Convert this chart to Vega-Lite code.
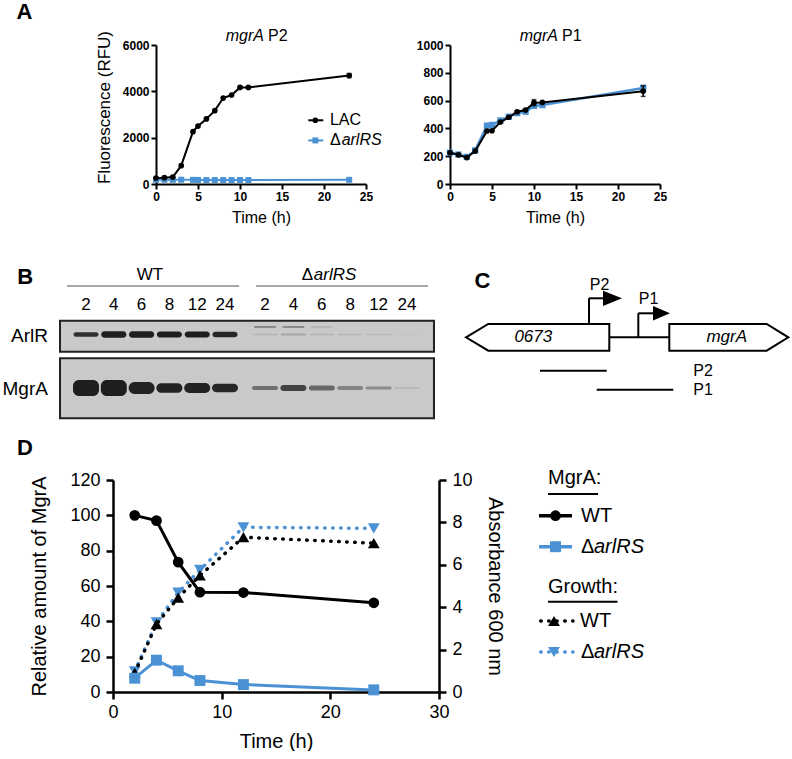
{
  "$schema": "https://vega.github.io/schema/vega-lite/v6.json",
  "background": "white",
  "padding": {"left": 0, "top": 0, "right": 0, "bottom": 0},
  "config": {
    "view": {"stroke": null},
    "font": "Liberation Sans",
    "axis": {"grid": false, "domainColor": "black", "tickColor": "black", "labelColor": "black", "titleColor": "black", "titleFontWeight": "normal", "labelFont": "Liberation Sans", "titleFont": "Liberation Sans", "labelOverlap": false}
  },
  "datasets": {
    "A_P2": [
      {"t": 0, "strain": "LAC", "value": 260, "sd": 0},
      {"t": 1, "strain": "LAC", "value": 273, "sd": 0},
      {"t": 2, "strain": "LAC", "value": 300, "sd": 0},
      {"t": 3, "strain": "LAC", "value": 790, "sd": 0},
      {"t": 4.4, "strain": "LAC", "value": 2260, "sd": 0},
      {"t": 5, "strain": "LAC", "value": 2500, "sd": 0},
      {"t": 6, "strain": "LAC", "value": 2810, "sd": 0},
      {"t": 7, "strain": "LAC", "value": 3165, "sd": 0},
      {"t": 8, "strain": "LAC", "value": 3710, "sd": 0},
      {"t": 9, "strain": "LAC", "value": 3840, "sd": 0},
      {"t": 10, "strain": "LAC", "value": 4170, "sd": 40},
      {"t": 11, "strain": "LAC", "value": 4170, "sd": 0},
      {"t": 23, "strain": "LAC", "value": 4680, "sd": 90},
      {"t": 0, "strain": "ΔarlRS", "value": 185, "sd": 0},
      {"t": 1, "strain": "ΔarlRS", "value": 185, "sd": 0},
      {"t": 2, "strain": "ΔarlRS", "value": 180, "sd": 0},
      {"t": 3, "strain": "ΔarlRS", "value": 185, "sd": 0},
      {"t": 4.4, "strain": "ΔarlRS", "value": 180, "sd": 0},
      {"t": 5, "strain": "ΔarlRS", "value": 175, "sd": 0},
      {"t": 6, "strain": "ΔarlRS", "value": 170, "sd": 0},
      {"t": 7, "strain": "ΔarlRS", "value": 170, "sd": 0},
      {"t": 8, "strain": "ΔarlRS", "value": 170, "sd": 0},
      {"t": 9, "strain": "ΔarlRS", "value": 170, "sd": 0},
      {"t": 10, "strain": "ΔarlRS", "value": 175, "sd": 0},
      {"t": 11, "strain": "ΔarlRS", "value": 170, "sd": 0},
      {"t": 23, "strain": "ΔarlRS", "value": 180, "sd": 30}
    ],
    "A_P1": [
      {"t": 0, "strain": "LAC", "value": 225, "sd": 0},
      {"t": 1, "strain": "LAC", "value": 210, "sd": 0},
      {"t": 2, "strain": "LAC", "value": 190, "sd": 0},
      {"t": 3, "strain": "LAC", "value": 237, "sd": 0},
      {"t": 4.4, "strain": "LAC", "value": 381, "sd": 0},
      {"t": 5, "strain": "LAC", "value": 383, "sd": 0},
      {"t": 6, "strain": "LAC", "value": 446, "sd": 0},
      {"t": 7, "strain": "LAC", "value": 480, "sd": 0},
      {"t": 8, "strain": "LAC", "value": 520, "sd": 0},
      {"t": 9, "strain": "LAC", "value": 532, "sd": 0},
      {"t": 10, "strain": "LAC", "value": 585, "sd": 22},
      {"t": 11, "strain": "LAC", "value": 587, "sd": 0},
      {"t": 23, "strain": "LAC", "value": 668, "sd": 38},
      {"t": 0, "strain": "ΔarlRS", "value": 225, "sd": 0},
      {"t": 1, "strain": "ΔarlRS", "value": 212, "sd": 0},
      {"t": 2, "strain": "ΔarlRS", "value": 195, "sd": 0},
      {"t": 3, "strain": "ΔarlRS", "value": 242, "sd": 0},
      {"t": 4.4, "strain": "ΔarlRS", "value": 420, "sd": 0},
      {"t": 5, "strain": "ΔarlRS", "value": 425, "sd": 0},
      {"t": 6, "strain": "ΔarlRS", "value": 457, "sd": 0},
      {"t": 7, "strain": "ΔarlRS", "value": 484, "sd": 0},
      {"t": 8, "strain": "ΔarlRS", "value": 510, "sd": 0},
      {"t": 9, "strain": "ΔarlRS", "value": 520, "sd": 0},
      {"t": 10, "strain": "ΔarlRS", "value": 562, "sd": 0},
      {"t": 11, "strain": "ΔarlRS", "value": 568, "sd": 0},
      {"t": 23, "strain": "ΔarlRS", "value": 690, "sd": 22}
    ],
    "blot": [
      {"lane": 1, "strain": "WT", "time": "2", "row": "ArlR", "amount": 28, "intensity": 0.85},
      {"lane": 2, "strain": "WT", "time": "4", "row": "ArlR", "amount": 40, "intensity": 0.95},
      {"lane": 3, "strain": "WT", "time": "6", "row": "ArlR", "amount": 40, "intensity": 0.95},
      {"lane": 4, "strain": "WT", "time": "8", "row": "ArlR", "amount": 38, "intensity": 0.95},
      {"lane": 5, "strain": "WT", "time": "12", "row": "ArlR", "amount": 38, "intensity": 0.95},
      {"lane": 6, "strain": "WT", "time": "24", "row": "ArlR", "amount": 34, "intensity": 0.9},
      {"lane": 7, "strain": "ΔarlRS", "time": "2", "row": "ArlR", "amount": 10, "intensity": 0.12},
      {"lane": 8, "strain": "ΔarlRS", "time": "4", "row": "ArlR", "amount": 12, "intensity": 0.2},
      {"lane": 9, "strain": "ΔarlRS", "time": "6", "row": "ArlR", "amount": 10, "intensity": 0.12},
      {"lane": 10, "strain": "ΔarlRS", "time": "8", "row": "ArlR", "amount": 10, "intensity": 0.1},
      {"lane": 11, "strain": "ΔarlRS", "time": "12", "row": "ArlR", "amount": 8, "intensity": 0.08},
      {"lane": 12, "strain": "ΔarlRS", "time": "24", "row": "ArlR", "amount": 6, "intensity": 0.04},
      {"lane": 7, "strain": "ΔarlRS", "time": "2", "row": "ArlR upper", "amount": 12, "intensity": 0.35},
      {"lane": 8, "strain": "ΔarlRS", "time": "4", "row": "ArlR upper", "amount": 12, "intensity": 0.35},
      {"lane": 9, "strain": "ΔarlRS", "time": "6", "row": "ArlR upper", "amount": 8, "intensity": 0.12},
      {"lane": 1, "strain": "WT", "time": "2", "row": "MgrA", "amount": 100, "intensity": 0.95},
      {"lane": 2, "strain": "WT", "time": "4", "row": "MgrA", "amount": 100, "intensity": 0.95},
      {"lane": 3, "strain": "WT", "time": "6", "row": "MgrA", "amount": 76, "intensity": 0.93},
      {"lane": 4, "strain": "WT", "time": "8", "row": "MgrA", "amount": 60, "intensity": 0.92},
      {"lane": 5, "strain": "WT", "time": "12", "row": "MgrA", "amount": 62, "intensity": 0.92},
      {"lane": 6, "strain": "WT", "time": "24", "row": "MgrA", "amount": 52, "intensity": 0.9},
      {"lane": 7, "strain": "ΔarlRS", "time": "2", "row": "MgrA", "amount": 25, "intensity": 0.5},
      {"lane": 8, "strain": "ΔarlRS", "time": "4", "row": "MgrA", "amount": 38, "intensity": 0.75},
      {"lane": 9, "strain": "ΔarlRS", "time": "6", "row": "MgrA", "amount": 32, "intensity": 0.55},
      {"lane": 10, "strain": "ΔarlRS", "time": "8", "row": "MgrA", "amount": 24, "intensity": 0.38},
      {"lane": 11, "strain": "ΔarlRS", "time": "12", "row": "MgrA", "amount": 20, "intensity": 0.35},
      {"lane": 12, "strain": "ΔarlRS", "time": "24", "row": "MgrA", "amount": 10, "intensity": 0.12}
    ],
    "D": [
      {"t": 2, "strain": "WT", "mgra": 100, "od": 0.9},
      {"t": 4, "strain": "WT", "mgra": 97, "od": 3.2},
      {"t": 6, "strain": "WT", "mgra": 73.5, "od": 4.45},
      {"t": 8, "strain": "WT", "mgra": 56.5, "od": 5.5},
      {"t": 12, "strain": "WT", "mgra": 56.3, "od": 7.3},
      {"t": 24, "strain": "WT", "mgra": 50.5, "od": 7.02},
      {"t": 2, "strain": "ΔarlRS", "mgra": 7.8, "od": 0.97},
      {"t": 4, "strain": "ΔarlRS", "mgra": 18, "od": 3.28},
      {"t": 6, "strain": "ΔarlRS", "mgra": 12, "od": 4.69},
      {"t": 8, "strain": "ΔarlRS", "mgra": 6.5, "od": 5.76},
      {"t": 12, "strain": "ΔarlRS", "mgra": 4.2, "od": 7.77},
      {"t": 24, "strain": "ΔarlRS", "mgra": 1.2, "od": 7.72}
    ]
  },
  "spacing": 15,
  "vconcat": [
    {
      "hconcat": [
        {
          "width": 72, "height": 139,
          "data": {"values": [{"panel": "A"}]},
          "mark": {"type": "text", "fontSize": 22, "fontWeight": "bold", "align": "center", "baseline": "middle"},
          "encoding": {
            "text": {"field": "panel"},
            "x": {"datum": 0.34, "type": "quantitative", "scale": {"domain": [0, 1], "nice": false, "zero": false}, "axis": null},
            "y": {"datum": 1.241, "type": "quantitative", "scale": {"domain": [0, 1], "nice": false, "zero": false}, "axis": null}
          }
        },
        {
          "width": 210, "height": 139,
          "resolve": {"axis": {"x": "independent", "y": "independent"}},
          "layer": [
            {
              "data": {"name": "A_P2"},
              "encoding": {
                "x": {"field": "t", "type": "quantitative", "title": "Time (h)", "scale": {"domain": [0, 25], "nice": false, "zero": false},
                  "axis": {"values": [0, 5, 10, 15, 20, 25], "labelOverlap": false, "titleFontSize": 16, "titlePadding": 7, "labelFontSize": 12, "labelFontWeight": "bold", "labelPadding": 2, "tickSize": 5, "tickWidth": 2, "domainWidth": 2, "labelFlush": false}},
                "y": {"field": "value", "type": "quantitative", "title": "Fluorescence (RFU)", "scale": {"domain": [0, 6000], "nice": false},
                  "axis": {"values": [0, 2000, 4000, 6000], "labelOverlap": false, "format": "d", "titleFontSize": 17, "titlePadding": 9, "titleY": 62, "labelFontSize": 12, "labelFontWeight": "bold", "labelPadding": 2, "tickSize": 5, "tickWidth": 2, "domainWidth": 2}}
              },
              "layer": [
                {"transform": [{"filter": "datum.strain != 'LAC'"}], "mark": {"type": "line", "color": "#4B92D5", "strokeWidth": 2}},
                {"transform": [{"filter": "datum.strain != 'LAC'"}], "mark": {"type": "point", "shape": "square", "filled": true, "color": "#4B92D5", "size": 36, "opacity": 1}},
                {"transform": [{"filter": "datum.strain != 'LAC' && datum.sd > 0"}], "mark": {"type": "errorbar", "color": "#4B92D5", "ticks": true, "thickness": 1.5}, "encoding": {"yError": {"field": "sd"}}},
                {"transform": [{"filter": "datum.strain == 'LAC'"}], "mark": {"type": "line", "color": "black", "strokeWidth": 2}},
                {"transform": [{"filter": "datum.strain == 'LAC'"}], "mark": {"type": "point", "shape": "circle", "filled": true, "color": "black", "size": 32, "opacity": 1}},
                {"transform": [{"filter": "datum.strain == 'LAC' && datum.sd > 0"}], "mark": {"type": "errorbar", "color": "black", "ticks": true, "thickness": 1.5}, "encoding": {"yError": {"field": "sd"}}}
              ]
            },
            {
              "data": {"values": [{"label": "mgrA"}]},
              "mark": {"type": "text", "fontSize": 16, "fontStyle": "italic", "align": "right", "baseline": "middle"},
              "encoding": {"text": {"field": "label"}, "x": {"datum": 12.86, "type": "quantitative", "axis": null}, "y": {"datum": 6380, "type": "quantitative", "axis": null}}
            },
            {
              "data": {"values": [{"label": "P2"}]},
              "mark": {"type": "text", "fontSize": 16, "align": "left", "baseline": "middle"},
              "encoding": {"text": {"field": "label"}, "x": {"datum": 13.33, "type": "quantitative", "axis": null}, "y": {"datum": 6380, "type": "quantitative", "axis": null}}
            },
            {
              "data": {"values": [{"strain": "LAC"}]},
              "mark": {"type": "rule", "color": "black", "strokeWidth": 2},
              "encoding": {"x": {"datum": 18.13, "type": "quantitative", "axis": null}, "x2": {"datum": 19.92}, "y": {"datum": 2750, "type": "quantitative", "axis": null}}
            },
            {
              "data": {"values": [{"strain": "LAC"}]},
              "mark": {"type": "point", "shape": "circle", "filled": true, "color": "black", "size": 32, "opacity": 1},
              "encoding": {"x": {"datum": 18.97, "type": "quantitative", "axis": null}, "y": {"datum": 2750, "type": "quantitative", "axis": null}}
            },
            {
              "data": {"values": [{"strain": "LAC"}]},
              "mark": {"type": "text", "fontSize": 16, "align": "left", "baseline": "middle"},
              "encoding": {"text": {"field": "strain"}, "x": {"datum": 20.7, "type": "quantitative", "axis": null}, "y": {"datum": 2750, "type": "quantitative", "axis": null}}
            },
            {
              "data": {"values": [{"strain": "ΔarlRS"}]},
              "mark": {"type": "rule", "color": "#4B92D5", "strokeWidth": 2},
              "encoding": {"x": {"datum": 18.13, "type": "quantitative", "axis": null}, "x2": {"datum": 19.92}, "y": {"datum": 1880, "type": "quantitative", "axis": null}}
            },
            {
              "data": {"values": [{"strain": "ΔarlRS"}]},
              "mark": {"type": "point", "shape": "square", "filled": true, "color": "#4B92D5", "size": 36, "opacity": 1},
              "encoding": {"x": {"datum": 18.97, "type": "quantitative", "axis": null}, "y": {"datum": 1880, "type": "quantitative", "axis": null}}
            },
            {
              "data": {"values": [{"label": "Δ"}]},
              "mark": {"type": "text", "fontSize": 16, "align": "left", "baseline": "middle"},
              "encoding": {"text": {"field": "label"}, "x": {"datum": 20.7, "type": "quantitative", "axis": null}, "y": {"datum": 1880, "type": "quantitative", "axis": null}}
            },
            {
              "data": {"values": [{"label": "arlRS"}]},
              "mark": {"type": "text", "fontSize": 16, "fontStyle": "italic", "align": "left", "baseline": "middle"},
              "encoding": {"text": {"field": "label"}, "x": {"datum": 22.1, "type": "quantitative", "axis": null}, "y": {"datum": 1880, "type": "quantitative", "axis": null}}
            }
          ]
        },
        {
          "width": 210, "height": 139,
          "resolve": {"axis": {"x": "independent", "y": "independent"}},
          "layer": [
            {
              "data": {"name": "A_P1"},
              "encoding": {
                "x": {"field": "t", "type": "quantitative", "title": "Time (h)", "scale": {"domain": [0, 25], "nice": false, "zero": false},
                  "axis": {"values": [0, 5, 10, 15, 20, 25], "labelOverlap": false, "titleFontSize": 16, "titlePadding": 7, "labelFontSize": 12, "labelFontWeight": "bold", "labelPadding": 2, "tickSize": 5, "tickWidth": 2, "domainWidth": 2, "labelFlush": false}},
                "y": {"field": "value", "type": "quantitative", "title": null, "scale": {"domain": [0, 1000], "nice": false},
                  "axis": {"values": [0, 200, 400, 600, 800, 1000], "labelOverlap": false, "format": "d", "title": null, "labelFontSize": 12, "labelFontWeight": "bold", "labelPadding": 2, "tickSize": 5, "tickWidth": 2, "domainWidth": 2}}
              },
              "layer": [
                {"transform": [{"filter": "datum.strain != 'LAC'"}], "mark": {"type": "line", "color": "#4B92D5", "strokeWidth": 2.5}},
                {"transform": [{"filter": "datum.strain != 'LAC'"}], "mark": {"type": "point", "shape": "square", "filled": true, "color": "#4B92D5", "size": 40, "opacity": 1}},
                {"transform": [{"filter": "datum.strain != 'LAC' && datum.sd > 0"}], "mark": {"type": "errorbar", "color": "#4B92D5", "ticks": true, "thickness": 1.5}, "encoding": {"yError": {"field": "sd"}}},
                {"transform": [{"filter": "datum.strain == 'LAC'"}], "mark": {"type": "line", "color": "black", "strokeWidth": 2}},
                {"transform": [{"filter": "datum.strain == 'LAC'"}], "mark": {"type": "point", "shape": "circle", "filled": true, "color": "black", "size": 32, "opacity": 1}},
                {"transform": [{"filter": "datum.strain == 'LAC' && datum.sd > 0"}], "mark": {"type": "errorbar", "color": "black", "ticks": true, "thickness": 1.5}, "encoding": {"yError": {"field": "sd"}}}
              ]
            },
            {
              "data": {"values": [{"label": "mgrA"}]},
              "mark": {"type": "text", "fontSize": 16, "fontStyle": "italic", "align": "right", "baseline": "middle"},
              "encoding": {"text": {"field": "label"}, "x": {"datum": 12.86, "type": "quantitative", "axis": null}, "y": {"datum": 1065, "type": "quantitative", "axis": null}}
            },
            {
              "data": {"values": [{"label": "P1"}]},
              "mark": {"type": "text", "fontSize": 16, "align": "left", "baseline": "middle"},
              "encoding": {"text": {"field": "label"}, "x": {"datum": 13.33, "type": "quantitative", "axis": null}, "y": {"datum": 1065, "type": "quantitative", "axis": null}}
            }
          ]
        }
      ],
      "spacing": 84,
      "bounds": "flush"
    },
    {
      "hconcat": [
        {
          "width": 435, "height": 181,
          "data": {"name": "blot"},
          "layer": [
            {
              "data": {"values": [{"membrane": "ArlR"}]},
              "mark": {"type": "rect", "fill": "#c9c9c9", "stroke": "#222222", "strokeWidth": 2},
              "encoding": {
                "x": {"datum": 0.065, "type": "quantitative", "scale": {"domain": [1, 6, 7, 12], "range": [86, 225, 265, 407], "nice": false, "zero": false}, "axis": null},
                "x2": {"datum": 12.95},
                "y": {"datum": 8.07, "type": "quantitative", "scale": {"domain": [0, 18.1], "reverse": true, "nice": false, "zero": false}, "axis": null},
                "y2": {"datum": 11.17}
              }
            },
            {
              "data": {"values": [{"membrane": "MgrA"}]},
              "mark": {"type": "rect", "fill": "#c9c9c9", "stroke": "#222222", "strokeWidth": 2},
              "encoding": {"x": {"datum": 0.065, "type": "quantitative"}, "x2": {"datum": 12.95}, "y": {"datum": 11.83, "type": "quantitative"}, "y2": {"datum": 17.83}}
            },
            {
              "transform": [{"filter": "datum.row == 'ArlR'"}],
              "mark": {"type": "tick", "orient": "vertical", "thickness": 25, "color": "#151515", "cornerRadius": 3},
              "encoding": {
                "x": {"field": "lane", "type": "quantitative"},
                "y": {"datum": 9.45, "type": "quantitative"},
                "size": {"field": "amount", "type": "quantitative", "scale": {"domain": [0, 100], "range": [0, 16]}, "legend": null},
                "opacity": {"field": "intensity", "type": "quantitative", "scale": {"domain": [0, 1], "range": [0, 1]}, "legend": null}
              }
            },
            {
              "transform": [{"filter": "datum.row == 'ArlR upper'"}],
              "mark": {"type": "tick", "orient": "vertical", "thickness": 22, "color": "#151515", "cornerRadius": 2},
              "encoding": {
                "x": {"field": "lane", "type": "quantitative"},
                "y": {"datum": 8.7, "type": "quantitative"},
                "size": {"field": "amount", "type": "quantitative", "legend": null},
                "opacity": {"field": "intensity", "type": "quantitative", "legend": null}
              }
            },
            {
              "transform": [{"filter": "datum.row == 'MgrA'"}],
              "mark": {"type": "tick", "orient": "vertical", "thickness": 26, "color": "#151515", "cornerRadius": 6},
              "encoding": {
                "x": {"field": "lane", "type": "quantitative"},
                "y": {"datum": 14.8, "type": "quantitative"},
                "size": {"field": "amount", "type": "quantitative", "legend": null},
                "opacity": {"field": "intensity", "type": "quantitative", "legend": null}
              }
            },
            {
              "transform": [{"filter": "datum.row == 'MgrA'"}],
              "mark": {"type": "text", "fontSize": 17, "align": "center", "baseline": "middle"},
              "encoding": {"text": {"field": "time"}, "x": {"field": "lane", "type": "quantitative"}, "y": {"datum": 6.5, "type": "quantitative"}}
            },
            {
              "data": {"values": [{"label": "ArlR"}]},
              "mark": {"type": "text", "fontSize": 19, "align": "right", "baseline": "middle"},
              "encoding": {"text": {"field": "label"}, "x": {"datum": -0.37, "type": "quantitative"}, "y": {"datum": 9.6, "type": "quantitative"}}
            },
            {
              "data": {"values": [{"label": "MgrA"}]},
              "mark": {"type": "text", "fontSize": 19, "align": "right", "baseline": "middle"},
              "encoding": {"text": {"field": "label"}, "x": {"datum": -0.37, "type": "quantitative"}, "y": {"datum": 14.9, "type": "quantitative"}}
            },
            {
              "data": {"values": [{"label": "WT"}]},
              "mark": {"type": "text", "fontSize": 17, "align": "center", "baseline": "middle"},
              "encoding": {"text": {"field": "label"}, "x": {"datum": 3.3, "type": "quantitative"}, "y": {"datum": 3.5, "type": "quantitative"}}
            },
            {
              "data": {"values": [{"label": "Δ"}]},
              "mark": {"type": "text", "fontSize": 17, "align": "right", "baseline": "middle"},
              "encoding": {"text": {"field": "label"}, "x": {"datum": 8.69, "type": "quantitative"}, "y": {"datum": 3.5, "type": "quantitative"}}
            },
            {
              "data": {"values": [{"label": "arlRS"}]},
              "mark": {"type": "text", "fontSize": 17, "fontStyle": "italic", "align": "left", "baseline": "middle"},
              "encoding": {"text": {"field": "label"}, "x": {"datum": 8.72, "type": "quantitative"}, "y": {"datum": 3.5, "type": "quantitative"}}
            },
            {
              "data": {"values": [{"group": "WT"}]},
              "mark": {"type": "rule", "color": "#8a8a8a", "strokeWidth": 1.5},
              "encoding": {"x": {"datum": 0.317, "type": "quantitative"}, "x2": {"datum": 6.35}, "y": {"datum": 4.6, "type": "quantitative"}}
            },
            {
              "data": {"values": [{"group": "ΔarlRS"}]},
              "mark": {"type": "rule", "color": "#8a8a8a", "strokeWidth": 1.5},
              "encoding": {"x": {"datum": 6.775, "type": "quantitative"}, "x2": {"datum": 12.74}, "y": {"datum": 4.6, "type": "quantitative"}}
            },
            {
              "data": {"values": [{"panel": "B"}]},
              "mark": {"type": "text", "fontSize": 22, "fontWeight": "bold", "align": "center", "baseline": "middle"},
              "encoding": {"text": {"field": "panel"}, "x": {"datum": -1.19, "type": "quantitative"}, "y": {"datum": 3.65, "type": "quantitative"}}
            }
          ]
        },
        {
          "width": 330, "height": 181,
          "data": {"values": [{"feature": "diagram"}]},
          "layer": [
            {
              "mark": {"type": "text", "text": "C", "fontSize": 22, "fontWeight": "bold", "align": "center", "baseline": "middle"},
              "encoding": {
                "x": {"datum": 2.25, "type": "quantitative", "scale": {"domain": [0, 33], "nice": false, "zero": false}, "axis": null},
                "y": {"datum": 4.05, "type": "quantitative", "scale": {"domain": [0, 18.1], "reverse": true, "nice": false, "zero": false}, "axis": null}
              }
            },
            {"mark": {"type": "rule", "color": "black", "strokeWidth": 2}, "encoding": {"x": {"datum": 14.93, "type": "quantitative"}, "x2": {"datum": 20.93}, "y": {"datum": 9.73, "type": "quantitative"}}},
            {"mark": {"type": "point", "shape": "M -1 0 L -0.689 -0.186 L 1 -0.186 L 1 0.186 L -0.689 0.186 Z", "size": 20535, "filled": true, "fill": "white", "stroke": "black", "strokeWidth": 2, "opacity": 1}, "encoding": {"x": {"datum": 7.765, "type": "quantitative"}, "y": {"datum": 9.73, "type": "quantitative"}}},
            {"mark": {"type": "point", "shape": "M -1 -0.224 L 0.637 -0.224 L 1 0 L 0.637 0.224 L -1 0.224 Z", "size": 14161, "filled": true, "fill": "white", "stroke": "black", "strokeWidth": 2, "opacity": 1}, "encoding": {"x": {"datum": 26.88, "type": "quantitative"}, "y": {"datum": 9.73, "type": "quantitative"}}},
            {"mark": {"type": "text", "text": "0673", "fontSize": 17, "fontStyle": "italic", "align": "center", "baseline": "middle"}, "encoding": {"x": {"datum": 7.33, "type": "quantitative"}, "y": {"datum": 9.73, "type": "quantitative"}}},
            {"mark": {"type": "text", "text": "mgrA", "fontSize": 17, "fontStyle": "italic", "align": "center", "baseline": "middle"}, "encoding": {"x": {"datum": 26.67, "type": "quantitative"}, "y": {"datum": 9.73, "type": "quantitative"}}},
            {"mark": {"type": "rule", "color": "black", "strokeWidth": 2}, "encoding": {"x": {"datum": 12.9, "type": "quantitative"}, "y": {"datum": 8.4, "type": "quantitative"}, "y2": {"datum": 5.83}}},
            {"mark": {"type": "rule", "color": "black", "strokeWidth": 2}, "encoding": {"x": {"datum": 12.9, "type": "quantitative"}, "x2": {"datum": 15.0}, "y": {"datum": 5.83, "type": "quantitative"}}},
            {"mark": {"type": "point", "shape": "M -1 -0.8 L 1 0 L -1 0.8 Z", "size": 361, "filled": true, "color": "black", "opacity": 1}, "encoding": {"x": {"datum": 15.25, "type": "quantitative"}, "y": {"datum": 5.83, "type": "quantitative"}}},
            {"mark": {"type": "rule", "color": "black", "strokeWidth": 2}, "encoding": {"x": {"datum": 17.83, "type": "quantitative"}, "y": {"datum": 9.73, "type": "quantitative"}, "y2": {"datum": 7.33}}},
            {"mark": {"type": "rule", "color": "black", "strokeWidth": 2}, "encoding": {"x": {"datum": 17.83, "type": "quantitative"}, "x2": {"datum": 19.8}, "y": {"datum": 7.33, "type": "quantitative"}}},
            {"mark": {"type": "point", "shape": "M -1 -0.85 L 1 0 L -1 0.85 Z", "size": 289, "filled": true, "color": "black", "opacity": 1}, "encoding": {"x": {"datum": 20.15, "type": "quantitative"}, "y": {"datum": 7.33, "type": "quantitative"}}},
            {"mark": {"type": "text", "text": "P2", "fontSize": 16, "align": "center", "baseline": "middle"}, "encoding": {"x": {"datum": 13.95, "type": "quantitative"}, "y": {"datum": 4.5, "type": "quantitative"}}},
            {"mark": {"type": "text", "text": "P1", "fontSize": 16, "align": "center", "baseline": "middle"}, "encoding": {"x": {"datum": 18.85, "type": "quantitative"}, "y": {"datum": 5.9, "type": "quantitative"}}},
            {"mark": {"type": "rule", "color": "black", "strokeWidth": 2}, "encoding": {"x": {"datum": 8.0, "type": "quantitative"}, "x2": {"datum": 14.67}, "y": {"datum": 13.07, "type": "quantitative"}}},
            {"mark": {"type": "rule", "color": "black", "strokeWidth": 2}, "encoding": {"x": {"datum": 13.67, "type": "quantitative"}, "x2": {"datum": 21.33}, "y": {"datum": 14.97, "type": "quantitative"}}},
            {"mark": {"type": "text", "text": "P2", "fontSize": 16, "align": "left", "baseline": "middle"}, "encoding": {"x": {"datum": 23.33, "type": "quantitative"}, "y": {"datum": 13.07, "type": "quantitative"}}},
            {"mark": {"type": "text", "text": "P1", "fontSize": 16, "align": "left", "baseline": "middle"}, "encoding": {"x": {"datum": 23.33, "type": "quantitative"}, "y": {"datum": 14.97, "type": "quantitative"}}}
          ]
        }
      ],
      "spacing": 25,
      "bounds": "flush"
    },
    {
      "hconcat": [
        {
          "width": 32, "height": 212,
          "data": {"values": [{"panel": "D"}]},
          "mark": {"type": "text", "fontSize": 22, "fontWeight": "bold", "align": "center", "baseline": "middle"},
          "encoding": {
            "text": {"field": "panel"},
            "x": {"datum": 0.78, "type": "quantitative", "scale": {"domain": [0, 1], "nice": false, "zero": false}, "axis": null},
            "y": {"datum": 1.153, "type": "quantitative", "scale": {"domain": [0, 1], "nice": false, "zero": false}, "axis": null}
          }
        },
        {
          "width": 326, "height": 212,
          "data": {"name": "D"},
          "layer": [
            {
              "encoding": {
                "x": {"field": "t", "type": "quantitative", "title": "Time (h)", "scale": {"domain": [0, 30], "nice": false, "zero": false},
                  "axis": {"values": [0, 10, 20, 30], "labelOverlap": false, "titleFontSize": 20, "titlePadding": 10, "labelFontSize": 18, "labelPadding": 4, "tickSize": 7, "tickWidth": 2.5, "domainWidth": 2.5, "labelFlush": false}},
                "y": {"field": "od", "type": "quantitative", "title": "Absorbance 600 nm", "scale": {"domain": [0, 10], "nice": false},
                  "axis": {"orient": "right", "values": [0, 2, 4, 6, 8, 10], "labelOverlap": false, "titleFontSize": 20, "titlePadding": 12, "labelFontSize": 18, "labelPadding": 6, "tickSize": 7, "tickWidth": 2.5, "domainWidth": 2.5}}
              },
              "layer": [
                {"transform": [{"filter": "datum.strain != 'WT'"}], "mark": {"type": "line", "color": "#4B92D5", "strokeWidth": 3.5, "strokeDash": [0.5, 7.5], "strokeCap": "round"}},
                {"transform": [{"filter": "datum.strain != 'WT'"}], "mark": {"type": "point", "shape": "triangle-down", "filled": true, "color": "#4B92D5", "size": 140, "opacity": 1}},
                {"transform": [{"filter": "datum.strain == 'WT'"}], "mark": {"type": "line", "color": "black", "strokeWidth": 3.5, "strokeDash": [0.5, 7.5], "strokeCap": "round"}},
                {"transform": [{"filter": "datum.strain == 'WT'"}], "mark": {"type": "point", "shape": "triangle-up", "filled": true, "color": "black", "size": 140, "opacity": 1}}
              ]
            },
            {
              "encoding": {
                "x": {"field": "t", "type": "quantitative", "title": "Time (h)"},
                "y": {"field": "mgra", "type": "quantitative", "title": "Relative amount of MgrA", "scale": {"domain": [0, 120], "nice": false},
                  "axis": {"orient": "left", "values": [0, 20, 40, 60, 80, 100, 120], "labelOverlap": false, "titleFontSize": 20, "titlePadding": 20, "labelFontSize": 18, "labelPadding": 6, "tickSize": 7, "tickWidth": 2.5, "domainWidth": 2.5}}
              },
              "layer": [
                {"transform": [{"filter": "datum.strain != 'WT'"}], "mark": {"type": "line", "color": "#4B92D5", "strokeWidth": 3}},
                {"transform": [{"filter": "datum.strain != 'WT'"}], "mark": {"type": "point", "shape": "square", "filled": true, "color": "#4B92D5", "size": 120, "opacity": 1}},
                {"transform": [{"filter": "datum.strain == 'WT'"}], "mark": {"type": "line", "color": "black", "strokeWidth": 3}},
                {"transform": [{"filter": "datum.strain == 'WT'"}], "mark": {"type": "point", "shape": "circle", "filled": true, "color": "black", "size": 115, "opacity": 1}}
              ]
            }
          ],
          "resolve": {"scale": {"y": "independent"}, "axis": {"y": "independent"}}
        },
        {
          "width": 180, "height": 212,
          "data": {"values": [{"legend": "D"}]},
          "layer": [
            {
              "mark": {"type": "text", "text": "MgrA:", "fontSize": 20, "align": "left", "baseline": "middle"},
              "encoding": {
                "x": {"datum": 2.8, "type": "quantitative", "scale": {"domain": [0, 18], "nice": false, "zero": false}, "axis": null},
                "y": {"datum": -0.17, "type": "quantitative", "scale": {"domain": [0, 21.2], "reverse": true, "nice": false, "zero": false}, "axis": null}
              }
            },
            {"mark": {"type": "rule", "color": "black", "strokeWidth": 2}, "encoding": {"x": {"datum": 2.8, "type": "quantitative"}, "x2": {"datum": 7.8}, "y": {"datum": 1.4, "type": "quantitative"}}},
            {"mark": {"type": "rule", "color": "black", "strokeWidth": 3.5}, "encoding": {"x": {"datum": 1.9, "type": "quantitative"}, "x2": {"datum": 5.2}, "y": {"datum": 3.57, "type": "quantitative"}}},
            {"mark": {"type": "point", "shape": "circle", "filled": true, "color": "black", "size": 115, "opacity": 1}, "encoding": {"x": {"datum": 3.55, "type": "quantitative"}, "y": {"datum": 3.57, "type": "quantitative"}}},
            {"mark": {"type": "text", "text": "WT", "fontSize": 20, "align": "left", "baseline": "middle"}, "encoding": {"x": {"datum": 6.1, "type": "quantitative"}, "y": {"datum": 3.57, "type": "quantitative"}}},
            {"mark": {"type": "rule", "color": "#4B92D5", "strokeWidth": 3.5}, "encoding": {"x": {"datum": 1.9, "type": "quantitative"}, "x2": {"datum": 5.2}, "y": {"datum": 6.67, "type": "quantitative"}}},
            {"mark": {"type": "point", "shape": "square", "filled": true, "color": "#4B92D5", "size": 120, "opacity": 1}, "encoding": {"x": {"datum": 3.55, "type": "quantitative"}, "y": {"datum": 6.67, "type": "quantitative"}}},
            {"mark": {"type": "text", "text": "Δ", "fontSize": 20, "align": "left", "baseline": "middle"}, "encoding": {"x": {"datum": 6.1, "type": "quantitative"}, "y": {"datum": 6.67, "type": "quantitative"}}},
            {"mark": {"type": "text", "text": "arlRS", "fontSize": 20, "fontStyle": "italic", "align": "left", "baseline": "middle"}, "encoding": {"x": {"datum": 7.4, "type": "quantitative"}, "y": {"datum": 6.67, "type": "quantitative"}}},
            {"mark": {"type": "text", "text": "Growth:", "fontSize": 20, "align": "left", "baseline": "middle"}, "encoding": {"x": {"datum": 2.8, "type": "quantitative"}, "y": {"datum": 10.67, "type": "quantitative"}}},
            {"mark": {"type": "rule", "color": "black", "strokeWidth": 2}, "encoding": {"x": {"datum": 2.8, "type": "quantitative"}, "x2": {"datum": 9.75}, "y": {"datum": 12.17, "type": "quantitative"}}},
            {"mark": {"type": "rule", "color": "black", "strokeWidth": 3.5, "strokeDash": [0.5, 7.5], "strokeCap": "round"}, "encoding": {"x": {"datum": 2.07, "type": "quantitative"}, "x2": {"datum": 5.3}, "y": {"datum": 14.1, "type": "quantitative"}}},
            {"mark": {"type": "point", "shape": "triangle-up", "filled": true, "color": "black", "size": 140, "opacity": 1}, "encoding": {"x": {"datum": 3.4, "type": "quantitative"}, "y": {"datum": 14.1, "type": "quantitative"}}},
            {"mark": {"type": "text", "text": "WT", "fontSize": 20, "align": "left", "baseline": "middle"}, "encoding": {"x": {"datum": 6.0, "type": "quantitative"}, "y": {"datum": 14.1, "type": "quantitative"}}},
            {"mark": {"type": "rule", "color": "#4B92D5", "strokeWidth": 3.5, "strokeDash": [0.5, 7.5], "strokeCap": "round"}, "encoding": {"x": {"datum": 2.07, "type": "quantitative"}, "x2": {"datum": 5.3}, "y": {"datum": 17.2, "type": "quantitative"}}},
            {"mark": {"type": "point", "shape": "triangle-down", "filled": true, "color": "#4B92D5", "size": 140, "opacity": 1}, "encoding": {"x": {"datum": 3.4, "type": "quantitative"}, "y": {"datum": 17.2, "type": "quantitative"}}},
            {"mark": {"type": "text", "text": "Δ", "fontSize": 20, "align": "left", "baseline": "middle"}, "encoding": {"x": {"datum": 6.1, "type": "quantitative"}, "y": {"datum": 17.2, "type": "quantitative"}}},
            {"mark": {"type": "text", "text": "arlRS", "fontSize": 20, "fontStyle": "italic", "align": "left", "baseline": "middle"}, "encoding": {"x": {"datum": 7.4, "type": "quantitative"}, "y": {"datum": 17.2, "type": "quantitative"}}}
          ]
        }
      ],
      "spacing": 81,
      "bounds": "flush"
    }
  ]
}
